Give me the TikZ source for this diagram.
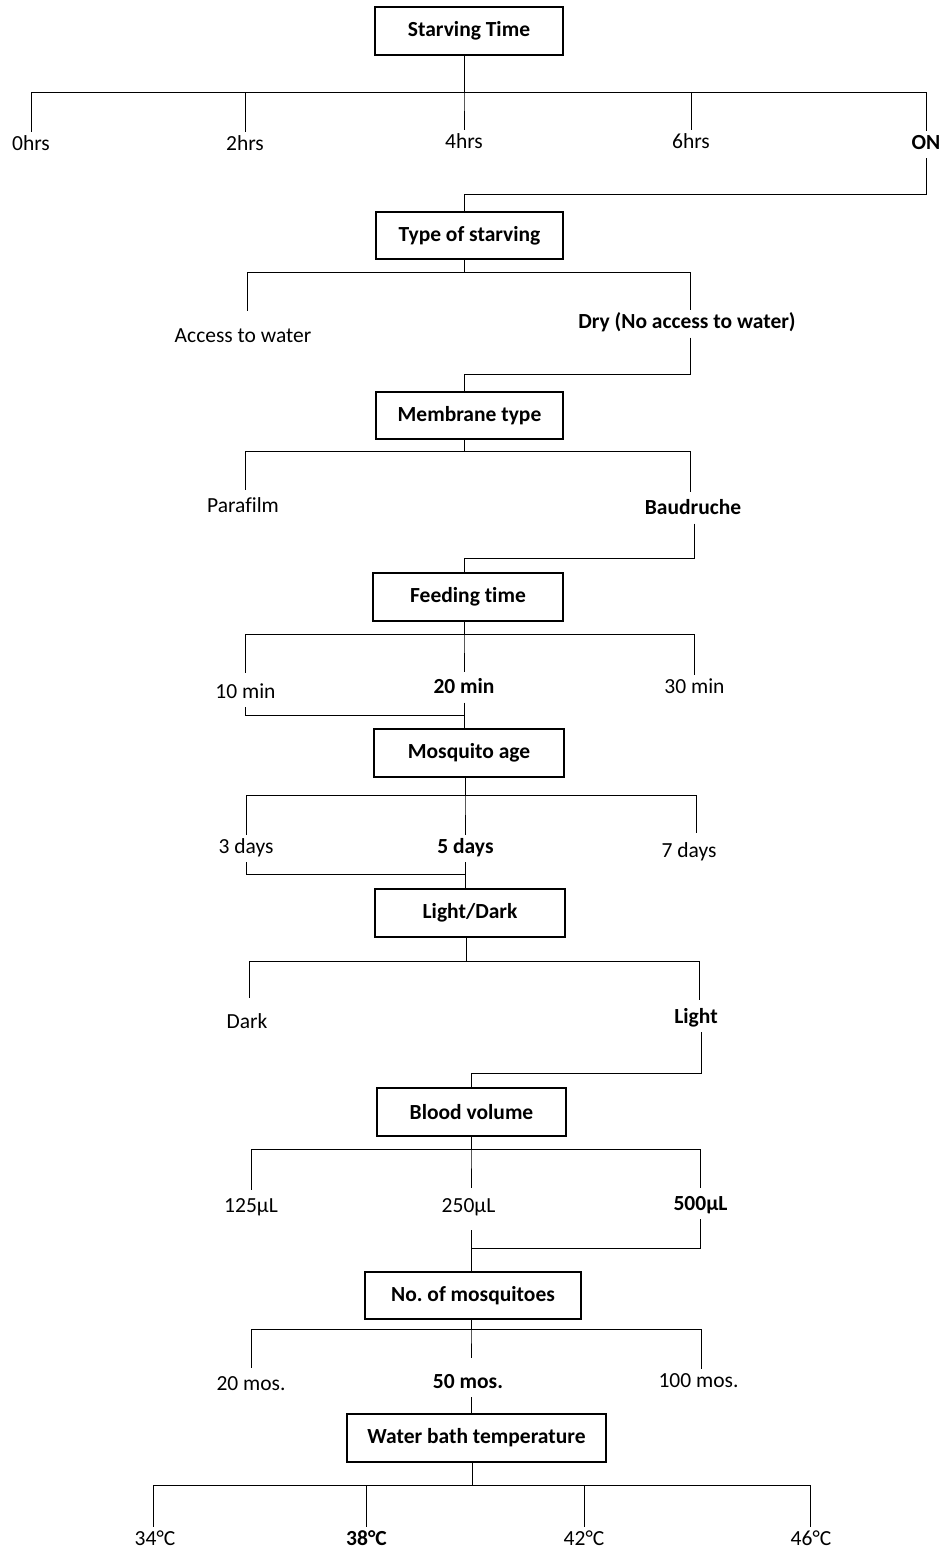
\documentclass[tikz,border=0pt]{standalone}
\usepackage{fontspec}
\setmainfont{Carlito}[Ligatures=NoCommon]
\frenchspacing
\begin{document}
\begin{tikzpicture}[x=1pt,y=-1pt,
  box/.style={draw, line width=1.2pt, inner sep=0pt, font=\fontsize{21.5}{26}\selectfont\bfseries},
  lab/.style={anchor=base, inner xsep=0pt, inner ysep=4pt, text height=14pt, text depth=5pt, font=\fontsize{21.5}{26}\selectfont},
  blab/.style={lab, font=\fontsize{21.5}{26}\selectfont\bfseries},
  conn/.style={line width=1pt}]
\useasboundingbox (0,0) rectangle (941,1551);

% boxes
\node[box, minimum width=188pt, minimum height=48pt] (b1) at (469,31) {Starving Time};
\node[box, minimum width=187pt, minimum height=47pt] (b2) at (469.5,235.5) {Type of starving};
\node[box, minimum width=187pt, minimum height=47pt] (b3) at (469.5,415.5) {Membrane type};
\node[box, minimum width=190pt, minimum height=48pt] (b4) at (468,597) {Feeding time};
\node[box, minimum width=190pt, minimum height=48pt] (b5) at (469,753) {Mosquito age};
\node[box, minimum width=190pt, minimum height=48pt] (b6) at (470,913) {Light/Dark};
\node[box, minimum width=189pt, minimum height=48pt] (b7) at (471.5,1112) {Blood volume};
\node[box, minimum width=216pt, minimum height=47pt] (b8) at (473,1295.5) {No.\ of mosquitoes};
\node[box, minimum width=259pt, minimum height=48pt] (b9) at (476.5,1438) {Water bath temperature};

% labels
\node[lab] (h0) at (31,150) {0hrs};
\node[lab] (h2) at (245,150.5) {2hrs};
\node[lab] (h4) at (464,148) {4hrs};
\node[lab] (h6) at (691,148) {6hrs};
\node[blab] (on) at (926,149) {ON};
\node[lab] (acc) at (243,342) {Access to water};
\node[blab] (dry) at (687,328.5) {Dry (No access to water)};
\node[lab] (para) at (243,512) {Parafilm};
\node[blab] (baud) at (693,514.5) {Baudruche};
\node[lab] (m10) at (245.5,698) {10 min};
\node[blab] (m20) at (464,693.5) {20 min};
\node[lab] (m30) at (694.5,693.5) {30 min};
\node[lab] (d3) at (246,853) {3 days};
\node[blab] (d5) at (465.5,853) {5 days};
\node[lab] (d7) at (689,857) {7 days};
\node[lab] (dark) at (247,1028) {Dark};
\node[blab] (light) at (696,1023) {Light};
\node[lab] (v125) at (251,1212) {125µL};
\node[lab] (v250) at (468.5,1212) {250µL};
\node[blab] (v500) at (700.5,1210) {500µL};
\node[lab] (n20) at (251,1390) {20 mos.};
\node[blab] (n50) at (468,1388) {50 mos.};
\node[lab] (n100) at (698.5,1387) {100 mos.};
\node[lab] (t34) at (155,1545) {34°C};
\node[blab] (t38) at (366.5,1545) {38°C};
\node[lab] (t42) at (584,1545) {42°C};
\node[lab] (t46) at (811,1545) {46°C};

% level 1
\draw[conn] ([xshift=-5pt]b1.south) -- ++(0,37) -| (h0.north);
\draw[conn] ([xshift=-5pt]b1.south) -- ++(0,37) -| (h2.north);
\draw[conn] ([xshift=-5pt]b1.south) -- ++(0,37) -| (h4.north);
\draw[conn] ([xshift=-5pt]b1.south) -- ++(0,37) -| (h6.north);
\draw[conn] ([xshift=-5pt]b1.south) -- ++(0,37) -| (on.north);
\draw[conn] (on.south) -- ++(0,36) -| ([xshift=-5.5pt]b2.north);

% level 2
\draw[conn, shorten >=13pt] ([xshift=-5.5pt]b2.south) -- ++(0,13) -| ([xshift=4pt]acc.north);
\draw[conn] ([xshift=-5.5pt]b2.south) -- ++(0,13) -| ([xshift=3pt]dry.north);
\draw[conn] ([xshift=3pt]dry.south) -- ++(0,36.5) -| ([xshift=-5.5pt]b3.north);

% level 3
\draw[conn, shorten >=4pt] ([xshift=-5.5pt]b3.south) -- ++(0,12) -| ([xshift=2pt]para.north);
\draw[conn, shorten >=4.5pt] ([xshift=-5.5pt]b3.south) -- ++(0,12) -| ([xshift=-3pt]baud.north);
\draw[conn] ([xshift=1pt]baud.south) -- ++(0,34.5) -| ([xshift=-4pt]b4.north);

% level 4
\draw[conn, shorten >=7pt] ([xshift=-4pt]b4.south) -- ++(0,13) -| (m10.north);
\draw[conn, shorten >=3.5pt] ([xshift=-4pt]b4.south) -- ++(0,13) -| (m20.north);
\draw[conn] ([xshift=-4pt]b4.south) -- ++(0,13) -| (m30.north);
\draw[conn] (m10.south) -- ++(0,8) -| ([xshift=-5pt]b5.north);
\draw[conn] (m20.south) -- (m20.south |- b5.north);

% level 5
\draw[conn] ([xshift=-4pt]b5.south) -- ++(0,18) -| (d3.north);
\draw[conn] ([xshift=-4pt]b5.south) -- ++(0,18) -| ([xshift=-0.5pt]d5.north);
\draw[conn, shorten >=6pt] ([xshift=-4pt]b5.south) -- ++(0,18) -| ([xshift=7pt]d7.north);
\draw[conn] (d3.south) -- ++(0,12) -| ([xshift=-5pt]b6.north);
\draw[conn] ([xshift=-0.5pt]d5.south) -- ([xshift=-0.5pt]d5.south |- b6.north);

% level 6
\draw[conn, shorten >=12pt] ([xshift=-4pt]b6.south) -- ++(0,24) -| ([xshift=2pt]dark.north);
\draw[conn, shorten >=5pt] ([xshift=-4pt]b6.south) -- ++(0,24) -| ([xshift=3pt]light.north);
\draw[conn] ([xshift=5pt]light.south) -- ++(0,41) -| ([xshift=-0.5pt]b7.north);

% level 7
\draw[conn, shorten >=4pt] ([xshift=-0.5pt]b7.south) -- ++(0,13) -| (v125.north);
\draw[conn, shorten >=6pt] ([xshift=-0.5pt]b7.south) -- ++(0,13) -| ([xshift=2.5pt]v250.north);
\draw[conn, shorten >=4pt] ([xshift=-0.5pt]b7.south) -- ++(0,13) -| (v500.north);
\draw[conn] (v500.south) -- ++(0,29) -| ([xshift=-2pt]b8.north);
\draw[conn, shorten <=9pt] ([xshift=2.5pt]v250.south) -- ([xshift=2.5pt]v250.south |- b8.north);

% level 8
\draw[conn, shorten >=4pt] ([xshift=-2pt]b8.south) -- ++(0,10) -| (n20.north);
\draw[conn, shorten >=12pt] ([xshift=-2pt]b8.south) -- ++(0,10) -| ([xshift=3pt]n50.north);
\draw[conn] ([xshift=-2pt]b8.south) -- ++(0,10) -| ([xshift=2.5pt]n100.north);
\draw[conn] ([xshift=3.5pt]n50.south) -- ([xshift=3.5pt]n50.south |- b9.north);

% level 9
\draw[conn] ([xshift=-4.5pt]b9.south) -- ++(0,23) -| ([xshift=-2pt]t34.north);
\draw[conn] ([xshift=-4.5pt]b9.south) -- ++(0,23) -| (t38.north);
\draw[conn] ([xshift=-4.5pt]b9.south) -- ++(0,23) -| (t42.north);
\draw[conn] ([xshift=-4.5pt]b9.south) -- ++(0,23) -| ([xshift=-1pt]t46.north);
\end{tikzpicture}
\end{document}
